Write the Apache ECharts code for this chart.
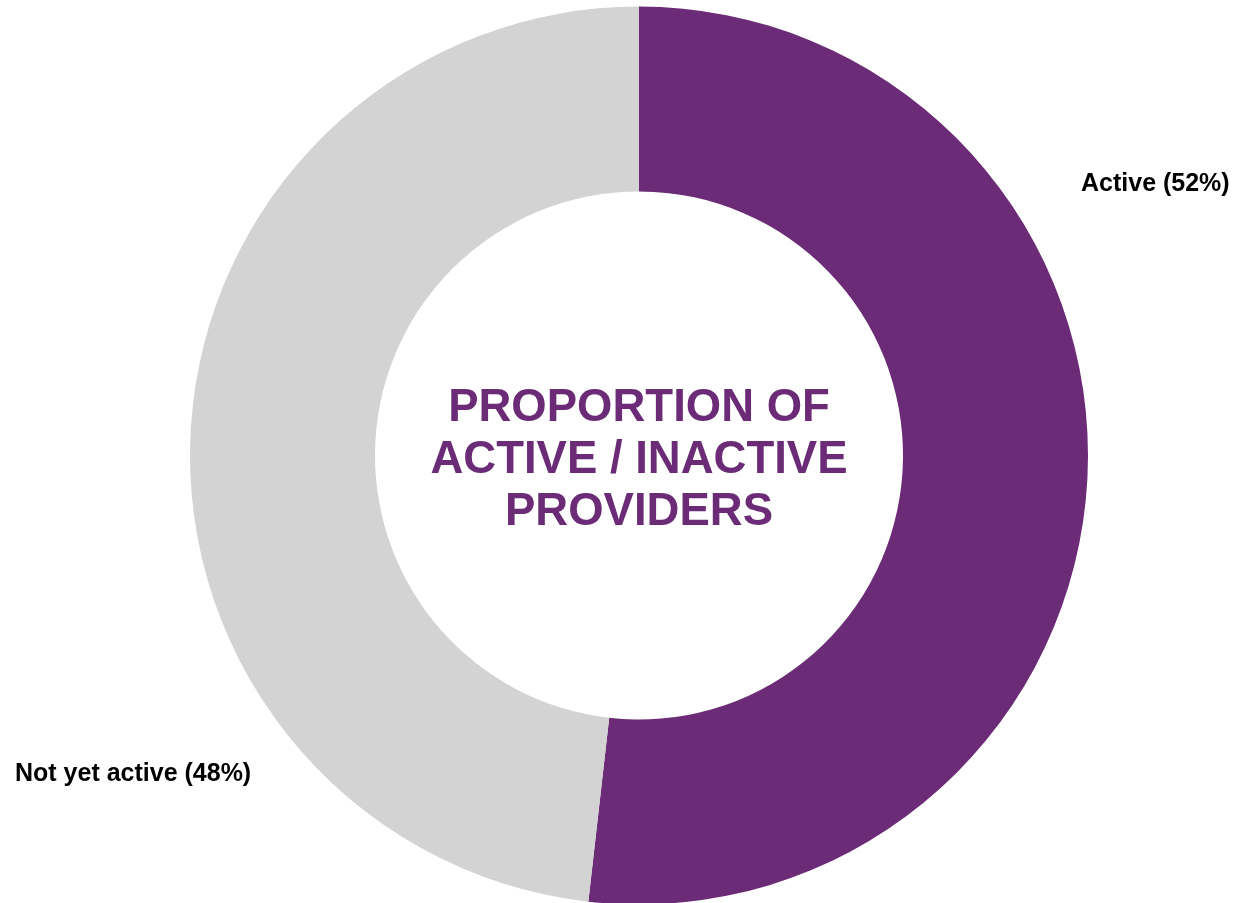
<!DOCTYPE html>
<html>
<head>
<meta charset="utf-8">
<script src="https://cdn.jsdelivr.net/npm/echarts@6/dist/echarts.min.js"></script>
<style>
html,body{margin:0;padding:0;background:#fff;}
#chart{width:1251px;height:903px;}
</style>
</head>
<body>
<div id="chart"></div>
<script>
const categories = ['Active', 'Not yet active'];
const values = [51.8, 48.2];
const centerTitle = ['PROPORTION OF', 'ACTIVE / INACTIVE', 'PROVIDERS'];

const colors = ['#6B2B76', '#D3D3D3'];
const labelPos = [
  {x: 1081, y: 184},
  {x: 15, y: 774}
];

const chart = echarts.init(document.getElementById('chart'), null, {renderer: 'canvas'});
chart.setOption({
  animation: false,
  backgroundColor: '#ffffff',
  graphic: [{
    type: 'text',
    x: 639,
    y: 460,
    style: {
      text: centerTitle.join('\n'),
      fill: '#6B2B76',
      font: 'bold 45.5px "Liberation Sans", Arial, sans-serif',
      lineHeight: 52,
      align: 'center',
      verticalAlign: 'middle'
    }
  }],
  series: [{
    type: 'pie',
    center: [639, 455.5],
    radius: [264, 449],
    startAngle: 90,
    clockwise: true,
    silent: true,
    label: {
      show: true,
      position: 'outside',
      formatter: function (p) { return p.name + ' (' + Math.round(p.percent) + '%)'; },
      color: '#000',
      fontFamily: '"Liberation Sans", Arial, sans-serif',
      fontWeight: 'bold',
      fontSize: 25,
      overflow: 'none',
      width: 400
    },
    labelLine: {show: false},
    labelLayout: function (params) {
      const p = labelPos[params.dataIndex];
      return {x: p.x, y: p.y, align: 'left', verticalAlign: 'middle'};
    },
    data: categories.map((c, i) => ({
      name: c,
      value: values[i],
      itemStyle: {color: colors[i]}
    }))
  }]
});
</script>
</body>
</html>
